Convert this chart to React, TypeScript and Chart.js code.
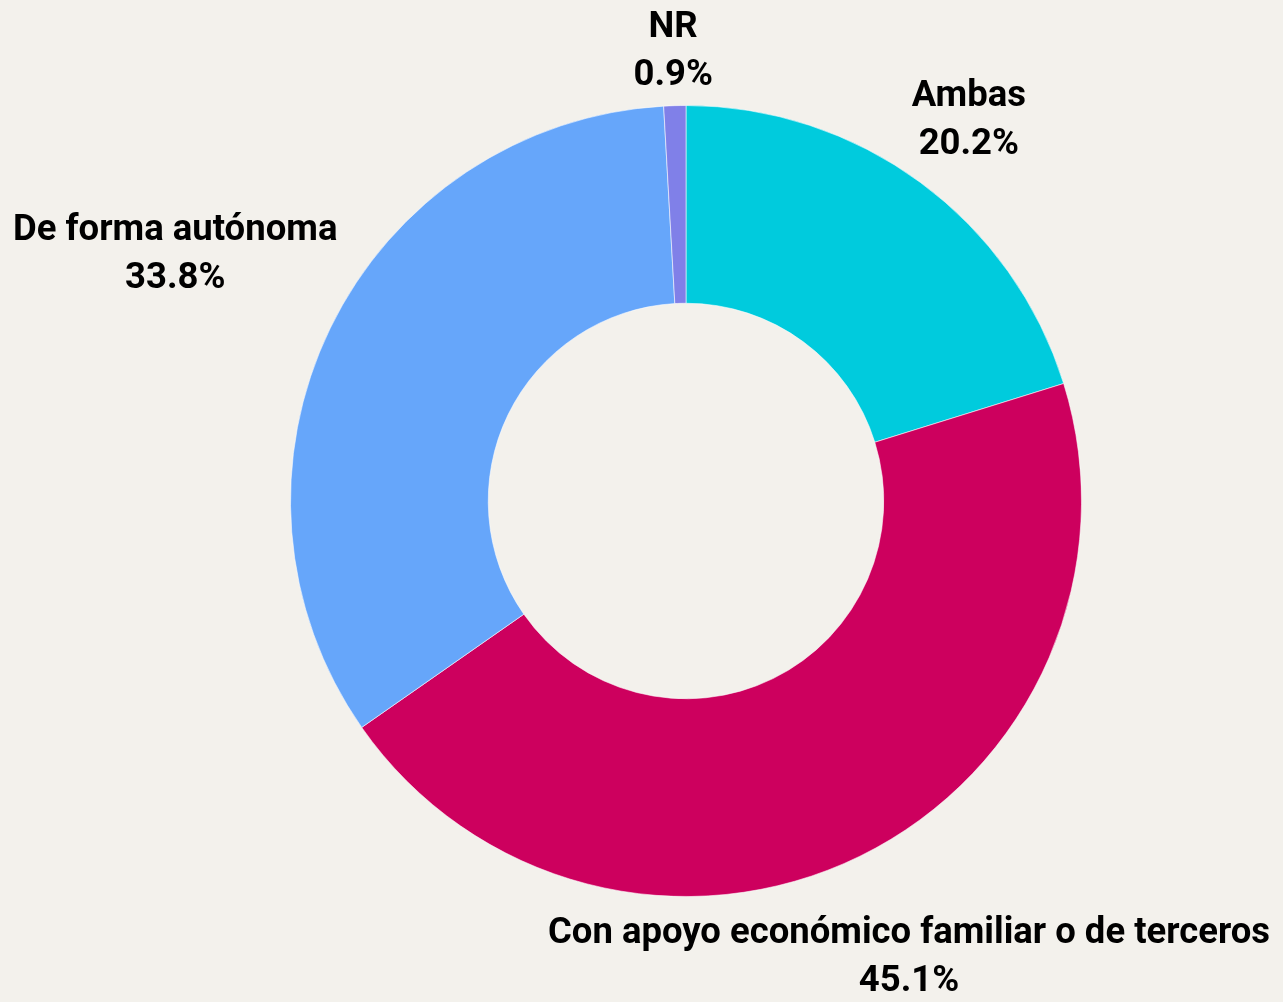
import React, { useEffect, useRef } from "react";
import { Chart, registerables } from "chart.js";

Chart.register(...registerables);

const categories = [
  "Ambas",
  "Con apoyo económico familiar o de terceros",
  "De forma autónoma",
  "NR",
];
const values = [20.2, 45.1, 33.8, 0.9];
const colors = ["#00CBDD", "#CD005E", "#66A6FA", "#8080E8"];

const W = 1283;
const H = 1002;
const BG = "#F3F1EC";

const labelPlugin = {
  id: "outerLabels",
  afterDatasetsDraw(chart: any) {
    const ctx = chart.ctx;
    const meta = chart.getDatasetMeta(0);
    const data = chart.data.datasets[0].data as number[];
    ctx.save();
    ctx.font = "bold 36.5px Roboto";
    ctx.fillStyle = "#000";
    ctx.textAlign = "center";
    ctx.textBaseline = "middle";
    const lh = 48;
    const maxW = 722;
    meta.data.forEach((arc: any, i: number) => {
      const { x, y, startAngle, endAngle, outerRadius } = arc.getProps(
        ["x", "y", "startAngle", "endAngle", "outerRadius"],
        true
      );
      const mid = (startAngle + endAngle) / 2;
      const dx = Math.cos(mid);
      const dy = Math.sin(mid);
      const lines = [String(chart.data.labels[i]), data[i].toFixed(1) + "%"];
      const w = Math.min(maxW, Math.max(...lines.map((l) => ctx.measureText(l).width)));
      const h = lh * lines.length;
      const ext = Math.abs(dx) * (w / 2) + Math.abs(dy) * (h / 2);
      const r = outerRadius + 9 + ext;
      let cx = x + dx * r;
      let cy = y + dy * r;
      const padX = 13;
      cx = Math.min(Math.max(cx, padX + w / 2), chart.width - padX - w / 2);
      cy = Math.min(Math.max(cy, h / 2), chart.height - h / 2);
      lines.forEach((l, k) => ctx.fillText(l, cx, cy - h / 2 + lh * (k + 0.5) + 4, maxW));
    });
    ctx.restore();
  },
};

export default function App() {
  const ref = useRef<HTMLCanvasElement | null>(null);
  useEffect(() => {
    document.body.style.margin = "0";
    document.body.style.background = BG;
    if (!ref.current) return;
    const chart = new Chart(ref.current, {
      type: "doughnut",
      data: {
        labels: categories,
        datasets: [
          {
            data: values,
            backgroundColor: colors,
            borderColor: "rgba(255,255,255,0.55)",
            borderWidth: 1,
          },
        ],
      },
      options: {
        animation: false,
        responsive: false,
        maintainAspectRatio: false,
        devicePixelRatio: 1,
        cutout: "50%",
        layout: { padding: { top: 105, bottom: 105, left: 200, right: 111 } },
        plugins: {
          legend: { display: false },
          tooltip: { enabled: false },
        },
      },
      plugins: [labelPlugin],
    });
    return () => chart.destroy();
  }, []);
  return (
    <div style={{ position: "fixed", left: 0, top: 0, width: W, height: H, background: BG }}>
      <canvas ref={ref} width={W} height={H} style={{ width: W, height: H, display: "block" }} />
    </div>
  );
}
